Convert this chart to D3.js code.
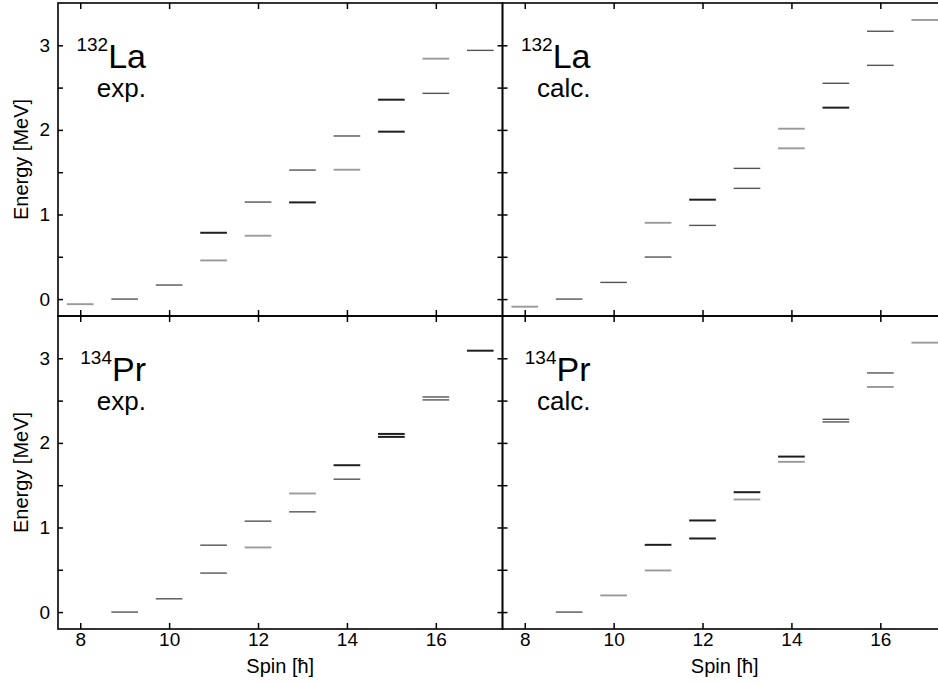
<!DOCTYPE html>
<html>
<head>
<meta charset="utf-8">
<script src="https://cdn.jsdelivr.net/npm/d3@7"></script>
<style>
  html, body { margin: 0; padding: 0; background: #fff; }
  svg { display: block; font-family: "Liberation Sans", Arial, Helvetica, sans-serif; }
</style>
</head>
<body>
<svg id="chart" width="938" height="685"></svg>
<script>
// ---- data (spin, energy in MeV, line tone class 1=dark, 2=medium, 3=light) ----
const xTicks = [8, 10, 12, 14, 16];
const yTicks = [0, 0.5, 1, 1.5, 2, 2.5, 3];

const laExpSpin   = [8, 9, 10, 11, 11, 12, 12, 13, 13, 14, 14, 15, 15, 16, 16, 17];
const laExpEnergy = [-0.06, 0.0, 0.166, 0.784, 0.457, 1.147, 0.749, 1.525, 1.143, 1.928, 1.529, 2.357, 1.979, 2.842, 2.432, 2.94];
const laExpTone   = [3, 2, 2, 1, 3, 2, 3, 2, 1, 2, 3, 1, 1, 3, 2, 2];

const laCalcSpin   = [8, 9, 10, 11, 11, 12, 12, 13, 13, 14, 14, 15, 15, 16, 16, 17];
const laCalcEnergy = [-0.09, 0.0, 0.197, 0.902, 0.497, 1.175, 0.871, 1.545, 1.309, 2.014, 1.782, 2.551, 2.263, 3.166, 2.763, 3.30];
const laCalcTone   = [3, 2, 2, 3, 2, 1, 2, 2, 2, 3, 3, 2, 1, 2, 2, 3];

const prExpSpin   = [9, 10, 11, 11, 12, 12, 13, 13, 14, 14, 15, 15, 16, 16, 17];
const prExpEnergy = [0.0, 0.157, 0.791, 0.461, 1.075, 0.764, 1.402, 1.185, 1.736, 1.571, 2.106, 2.071, 2.543, 2.508, 3.09];
const prExpTone   = [2, 2, 2, 2, 2, 3, 3, 2, 1, 2, 1, 1, 2, 2, 1];

const prCalcSpin   = [9, 10, 11, 11, 12, 12, 13, 13, 14, 14, 15, 15, 16, 16, 17];
const prCalcEnergy = [0.0, 0.197, 0.795, 0.492, 1.083, 0.870, 1.417, 1.331, 1.838, 1.776, 2.279, 2.248, 2.827, 2.661, 3.185];
const prCalcTone   = [2, 3, 1, 3, 1, 1, 1, 3, 1, 3, 2, 2, 2, 3, 3];

const panelNuclei = ["La", "La", "Pr", "Pr"];
const panelMass   = ["132", "132", "134", "134"];
const panelKind   = ["exp.", "calc.", "exp.", "calc."];

// ---- layout ----
const svg = d3.select("#chart");
const colEdges = [58, 502.5, 947];
const rowEdges = [3, 316, 629];
const xDomain = [7.5, 17.5];
const yDomain = [-0.2, 3.5];
const halfWidth = 0.3;

const toneColor = d3.scaleOrdinal().domain([1, 2, 3]).range(["#1e1e1e", "#555555", "#9a9a9a"]);
const toneWidth = d3.scaleOrdinal().domain([1, 2, 3]).range([2.0, 1.4, 1.9]);

const panels = [
  { col: 0, row: 0, spin: laExpSpin,  energy: laExpEnergy,  tone: laExpTone },
  { col: 1, row: 0, spin: laCalcSpin, energy: laCalcEnergy, tone: laCalcTone },
  { col: 0, row: 1, spin: prExpSpin,  energy: prExpEnergy,  tone: prExpTone },
  { col: 1, row: 1, spin: prCalcSpin, energy: prCalcEnergy, tone: prCalcTone }
];

panels.forEach((p, i) => {
  const x0 = colEdges[p.col], x1 = colEdges[p.col + 1];
  const y0 = rowEdges[p.row], y1 = rowEdges[p.row + 1];
  const x = d3.scaleLinear().domain(xDomain).range([x0, x1]);
  const y = d3.scaleLinear().domain(yDomain).range([y1, y0]);
  const g = svg.append("g");

  // levels
  const levels = p.spin.map((s, k) => ({ s, e: p.energy[k], t: p.tone[k] }));
  g.append("g").selectAll("line").data(levels).join("line")
    .attr("x1", d => x(d.s - halfWidth))
    .attr("x2", d => x(d.s + halfWidth))
    .attr("y1", d => y(d.e))
    .attr("y2", d => y(d.e))
    .attr("stroke", d => toneColor(d.t))
    .attr("stroke-width", d => toneWidth(d.t));

  // axes (inward ticks)
  const showY = p.col === 0;
  const showX = p.row === 1;
  const yFmt = v => (showY && Number.isInteger(v)) ? d3.format("d")(v) : "";
  const xFmt = v => showX ? d3.format("d")(v) : "";

  const left = g.append("g").attr("transform", `translate(${x0},0)`)
    .call(d3.axisLeft(y).tickValues(yTicks).tickSizeInner(-5).tickSizeOuter(0).tickPadding(8).tickFormat(yFmt));
  const right = g.append("g").attr("transform", `translate(${x1},0)`)
    .call(d3.axisRight(y).tickValues(yTicks).tickSizeInner(-5).tickSizeOuter(0).tickFormat(() => ""));
  const top = g.append("g").attr("transform", `translate(0,${y0})`)
    .call(d3.axisTop(x).tickValues(xTicks).tickSizeInner(-6).tickSizeOuter(0).tickFormat(() => ""));
  const bottom = g.append("g").attr("transform", `translate(0,${y1})`)
    .call(d3.axisBottom(x).tickValues(xTicks).tickSizeInner(-6).tickSizeOuter(0).tickPadding(4).tickFormat(xFmt));

  [left, right, top, bottom].forEach(a => {
    a.select(".domain").remove();
    a.selectAll(".tick line").attr("stroke", "#000").attr("stroke-width", 1.5);
    a.selectAll(".tick text").attr("fill", "#000").style("font-size", "19px")
      .style("font-family", "'Liberation Sans', Arial, Helvetica, sans-serif");
  });

  // frame
  g.append("rect")
    .attr("x", x0).attr("y", y0).attr("width", x1 - x0).attr("height", y1 - y0)
    .attr("fill", "none").attr("stroke", "#000").attr("stroke-width", 1.6);

  // nucleus label
  const lx = x0 + 88;
  const lab = g.append("text").attr("x", lx).attr("y", y0 + 65).attr("text-anchor", "end").attr("fill", "#000");
  lab.append("tspan").style("font-size", "19px").attr("dy", -17).text(panelMass[i]);
  lab.append("tspan").style("font-size", "34px").attr("dy", 17).text(panelNuclei[i]);
  g.append("text").attr("x", lx).attr("y", y0 + 94).attr("text-anchor", "end")
    .style("font-size", "26px").attr("fill", "#000").text(panelKind[i]);

  // axis titles
  if (showY) {
    g.append("text")
      .attr("transform", `translate(28,${(y0 + y1) / 2}) rotate(-90)`)
      .attr("text-anchor", "middle").style("font-size", "20px").attr("fill", "#000")
      .text("Energy [MeV]");
  }
  if (showX) {
    g.append("text")
      .attr("x", x(12.5)).attr("y", 673)
      .attr("text-anchor", "middle").style("font-size", "20px").attr("fill", "#000")
      .text("Spin [ħ]");
  }
});
</script>
</body>
</html>
